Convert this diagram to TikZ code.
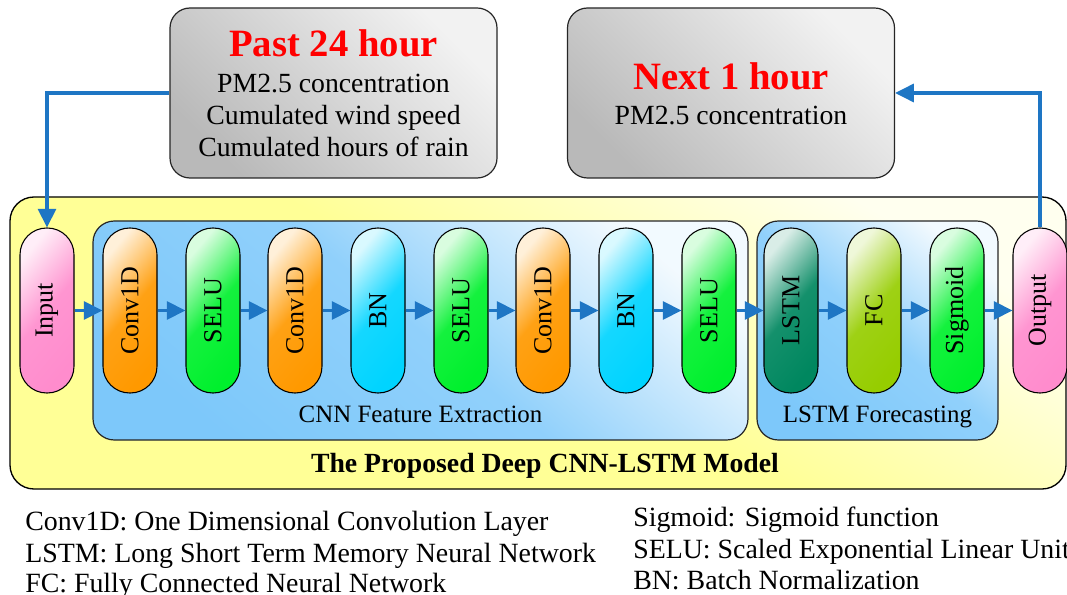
\documentclass[tikz,border=0pt]{standalone}
\usepackage{fontspec}
\setmainfont{Liberation Serif}
\usetikzlibrary{arrows.meta}
\definecolor{arrblue}{RGB}{30,118,196}
\definecolor{pinkc}{RGB}{255,140,205}
\definecolor{orangec}{RGB}{255,153,0}
\definecolor{greenc}{RGB}{0,240,45}
\definecolor{cyanc}{RGB}{0,212,255}
\definecolor{lstmc}{RGB}{0,135,95}
\definecolor{fcc}{RGB}{150,205,0}
\definecolor{yellowc}{RGB}{255,255,150}
\definecolor{bluec}{RGB}{125,200,250}
\definecolor{grayc}{RGB}{185,185,185}
\begin{document}
\begin{tikzpicture}[x=0.75pt,y=-0.75pt,
  pill/.style={draw=black, line width=0.8pt, rounded corners=20pt,
    minimum width=40.5pt, minimum height=123.75pt, inner sep=0pt,
    top color=#1!15!white, bottom color=#1, middle color=#1!92!white, shading angle=50,
    font=\fontsize{19.5}{20}\selectfont},
  arr/.style={draw=arrblue, line width=2.3pt, -{Triangle[length=14pt,width=13.5pt]}},
  graybox/.style={draw=black!85, line width=0.9pt, rounded corners=15pt,
    minimum width=245.25pt, minimum height=127.5pt, inner sep=0pt,
    top color=black!5, bottom color=grayc, shading angle=-45},
  outerbox/.style={draw=black, line width=1pt, rounded corners=18pt,
    minimum width=792pt, minimum height=219pt, inner sep=0pt,
    top color=yellowc!15!white, bottom color=yellowc, middle color=yellowc, shading angle=-30},
  bluebox/.style={draw=black!85, line width=0.9pt, rounded corners=16pt,
    minimum height=164.25pt, inner sep=0pt,
    top color=bluec!10!white, bottom color=bluec, middle color=bluec!85!white, shading angle=-40},
  body/.style={font=\fontsize{20.8}{25}\selectfont, inner sep=0pt, anchor=base},
  head/.style={font=\fontsize{29}{34}\selectfont\bfseries, text=red, inner sep=0pt, anchor=base},
  leg/.style={font=\fontsize{20.9}{25}\selectfont, inner sep=0pt, anchor=base west},
  sub/.style={font=\fontsize{18.7}{22}\selectfont, inner sep=0pt, anchor=base},
]
\useasboundingbox (0,0) rectangle (1067,595);
\clip (0,0) rectangle (1067,595);

% top boxes
\node[graybox] (past) at (333.5,93) {};
\node[head] (pastT) at (333.5,57) {Past 24 hour};
\node[body] (pastA) at (333.5,93) {PM2.5 concentration};
\node[body] (pastB) at (333.5,125) {Cumulated wind speed};
\node[body] (pastC) at (333.5,157) {Cumulated hours of rain};

\node[graybox] (next) at (731,93) {};
\node[head] (nextT) at (731,90) {Next 1 hour};
\node[body] (nextA) at (731,125) {PM2.5 concentration};

% containers
\node[outerbox] (outer) at (538,343) {};
\node[bluebox, minimum width=491.25pt] (cnn) at (420.5,330.5) {};
\node[bluebox, minimum width=180.75pt] (lstmbox) at (877.5,330.5) {};
\node[sub] (cnnL) at (420.5,422) {CNN Feature Extraction};
\node[sub] (lstmL) at (877.5,422) {LSTM Forecasting};
\node[font=\fontsize{20.8}{25}\selectfont\bfseries, inner sep=0pt, anchor=base] (title) at (545,472) {The Proposed Deep CNN-LSTM Model};

% pills
\node[pill=pinkc]   (n1)  at (47,310.5)  {\rotatebox{90}{Input}};
\node[pill=orangec] (n2)  at (130,310.5) {\rotatebox{90}{Conv1D}};
\node[pill=greenc]  (n3)  at (213,310.5) {\rotatebox{90}{SELU}};
\node[pill=orangec] (n4)  at (295,310.5) {\rotatebox{90}{Conv1D}};
\node[pill=cyanc]   (n5)  at (378,310.5) {\rotatebox{90}{BN}};
\node[pill=greenc]  (n6)  at (461,310.5) {\rotatebox{90}{SELU}};
\node[pill=orangec] (n7)  at (543,310.5) {\rotatebox{90}{Conv1D}};
\node[pill=cyanc]   (n8)  at (626,310.5) {\rotatebox{90}{BN}};
\node[pill=greenc]  (n9)  at (709,310.5) {\rotatebox{90}{SELU}};
\node[pill=lstmc]   (n10) at (791,310.5) {\rotatebox{90}{LSTM}};
\node[pill=fcc]     (n11) at (874,310.5) {\rotatebox{90}{FC}};
\node[pill=greenc]  (n12) at (957,310.5) {\rotatebox{90}{Sigmoid}};
\node[pill=pinkc]   (n13) at (1040,310.5) {\rotatebox{90}{Output}};

\foreach \a/\b in {n1/n2,n2/n3,n3/n4,n4/n5,n5/n6,n6/n7,n7/n8,n8/n9,n9/n10,n10/n11,n11/n12,n12/n13}
  \draw[arr] (\a.east) -- (\b.west);

\draw[arr] (past.west) -| (n1.north);
\draw[arr] (n13.north) |- (next.east);

% legend
\node[leg] (l1) at (25,530) {Conv1D: One Dimensional Convolution Layer};
\node[leg] (l2) at (25,562) {LSTM: Long Short Term Memory Neural Network};
\node[leg] (l3) at (25,592) {FC: Fully Connected Neural Network};
\node[leg] (l4) at (633,526) {Sigmoid: Sigmoid function};
\node[leg] (l5) at (633,558) {SELU: Scaled Exponential Linear Unit};
\node[leg] (l6) at (633,589) {BN: Batch Normalization};
\end{tikzpicture}
\end{document}
